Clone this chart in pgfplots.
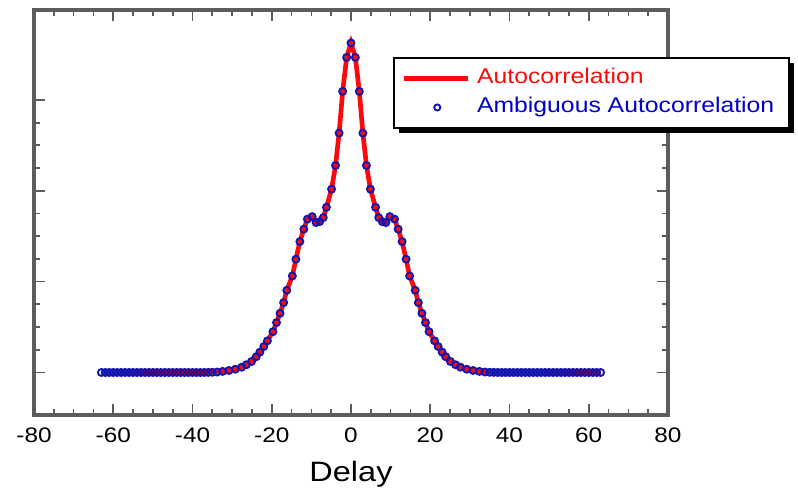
\documentclass[border=0pt]{standalone}
\usepackage{pgfplots}
\pgfplotsset{compat=1.18}
\usepackage{pgfplotstable}
\usetikzlibrary{shadows}
\usepackage{fontspec}
\setmainfont{Liberation Sans}[FakeStretch=1.16]
\definecolor{framegray}{RGB}{92,92,92}
\definecolor{acred}{RGB}{250,10,10}
\definecolor{acblue}{RGB}{20,20,175}
\definecolor{txtblue}{RGB}{0,0,200}

\pgfplotsset{
  aclineleg/.style={legend image code/.code={%
    \pgfpathmoveto{\pgfpoint{0pt}{0pt}}\pgfpathlineto{\pgfpoint{48pt}{0pt}}%
    \pgfsetcolor{acred}\pgfsetlinewidth{3.2pt}\pgfusepath{stroke}}},
  acmarkleg/.style={legend image code/.code={%
    \pgfpathrectangle{\pgfpoint{0pt}{-1pt}}{\pgfpoint{48pt}{2pt}}\pgfusepath{}%
    \pgfpathcircle{\pgfpoint{25pt}{0pt}}{2.3pt}%
    \pgfsetcolor{acblue}\pgfsetlinewidth{1.4pt}\pgfusepath{stroke}}},
}

\pgfplotstableread{
x y
-63 0
-62 0
-61 0
-60 0
-59 0
-58 0
-57 0
-56 0
-55 0
-54 0
-53 0
-52 0
-51 0
-50 0
-49 0
-48 0
-47 0
-46 0
-45 0
-44 0
-43 0
-42 0
-41 0
-40 0
-39 0
-38 0
-37 0
-36 0.001
-35 0.002
-33.8 0.005
-32.4 0.012
-30.8 0.022
-29.2 0.036
-27.6 0.058
-26.4 0.085
-25.1 0.121
-23.9 0.174
-23.0 0.224
-22.0 0.286
-21.1 0.348
-19.7 0.449
-18.8 0.549
-17.9 0.652
-17.0 0.769
-16.2 0.905
-14.8 1.062
-13.9 1.247
-12.9 1.441
-11.9 1.578
-11.0 1.688
-9.8 1.716
-8.8 1.650
-7.9 1.661
-7.0 1.705
-6.2 1.818
-4.9 2.018
-3.9 2.278
-3.0 2.635
-2.1 3.094
-1.1 3.468
0 3.627
1.1 3.468
2.1 3.094
3.0 2.635
3.9 2.278
4.9 2.018
6.2 1.818
7.0 1.705
7.9 1.661
8.8 1.650
9.8 1.716
11.0 1.688
11.9 1.578
12.9 1.441
13.9 1.247
14.8 1.062
16.2 0.905
17.0 0.769
17.9 0.652
18.8 0.549
19.7 0.449
21.1 0.348
22.0 0.286
23.0 0.224
23.9 0.174
25.1 0.121
26.4 0.085
27.6 0.058
29.2 0.036
30.8 0.022
32.4 0.012
33.8 0.005
35 0.002
36 0.001
37 0
38 0
39 0
40 0
41 0
42 0
43 0
44 0
45 0
46 0
47 0
48 0
49 0
50 0
51 0
52 0
53 0
54 0
55 0
56 0
57 0
58 0
59 0
60 0
61 0
62 0
63 0
}\acdata

\begin{document}
\begin{tikzpicture}
\begin{axis}[
  at={(0pt,0pt)}, anchor=south west,
  scale only axis, width=475.5pt, height=303.75pt,
  xmin=-80, xmax=80, ymin=-0.468, ymax=3.99,
  xtick={-80,-60,...,80}, minor x tick num=3,
  ytick={0,1,2,3}, minor y tick num=3, yticklabels={},
  tick align=inside,
  major tick length=8.5pt, minor tick length=4.5pt,
  every tick/.style={line width=1.3pt, color=framegray},
  axis line style={line width=2.5pt, color=framegray},
  /pgf/number format/assume math mode=true,
  tick label style={font=\fontsize{15.75}{18}\selectfont},
  xticklabel style={anchor=base, yshift=-21pt},
  xlabel={Delay},
  xlabel style={font=\fontsize{21}{24}\selectfont, at={(rel axis cs:0.5,0)}, anchor=base, yshift=-50pt},
  legend cell align=left,
  legend style={at={(rel axis cs:0.566,0.884)}, anchor=north west,
    draw=black, line width=1.5pt, fill=white,
    font=\fontsize{16}{19}\selectfont,
    inner xsep=6pt, inner ysep=4.5pt, row sep=0pt,
    drop shadow={shadow xshift=3.75pt, shadow yshift=-3.75pt, fill=black, opacity=1},
    nodes={inner sep=0pt, text height=15pt, text depth=6.75pt},
    /tikz/every odd column/.append style={column sep=5.25pt}},
]
\addplot[acred, line width=3.5pt, no markers, aclineleg]
  table[x=x,y=y] {\acdata};
\addlegendentry{\textcolor{acred}{Autocorrelation}}
\addplot[only marks, mark=o, mark size=2.6pt, acblue, mark options={line width=1.45pt}, acmarkleg]
  table[x=x,y=y] {\acdata};
\addlegendentry{\textcolor{txtblue}{Ambiguous Autocorrelation}\hspace*{5pt}}
\end{axis}
\pgfresetboundingbox
\path[use as bounding box] (-25.5pt,-57pt) rectangle (573pt,311.25pt);
\end{tikzpicture}
\end{document}
